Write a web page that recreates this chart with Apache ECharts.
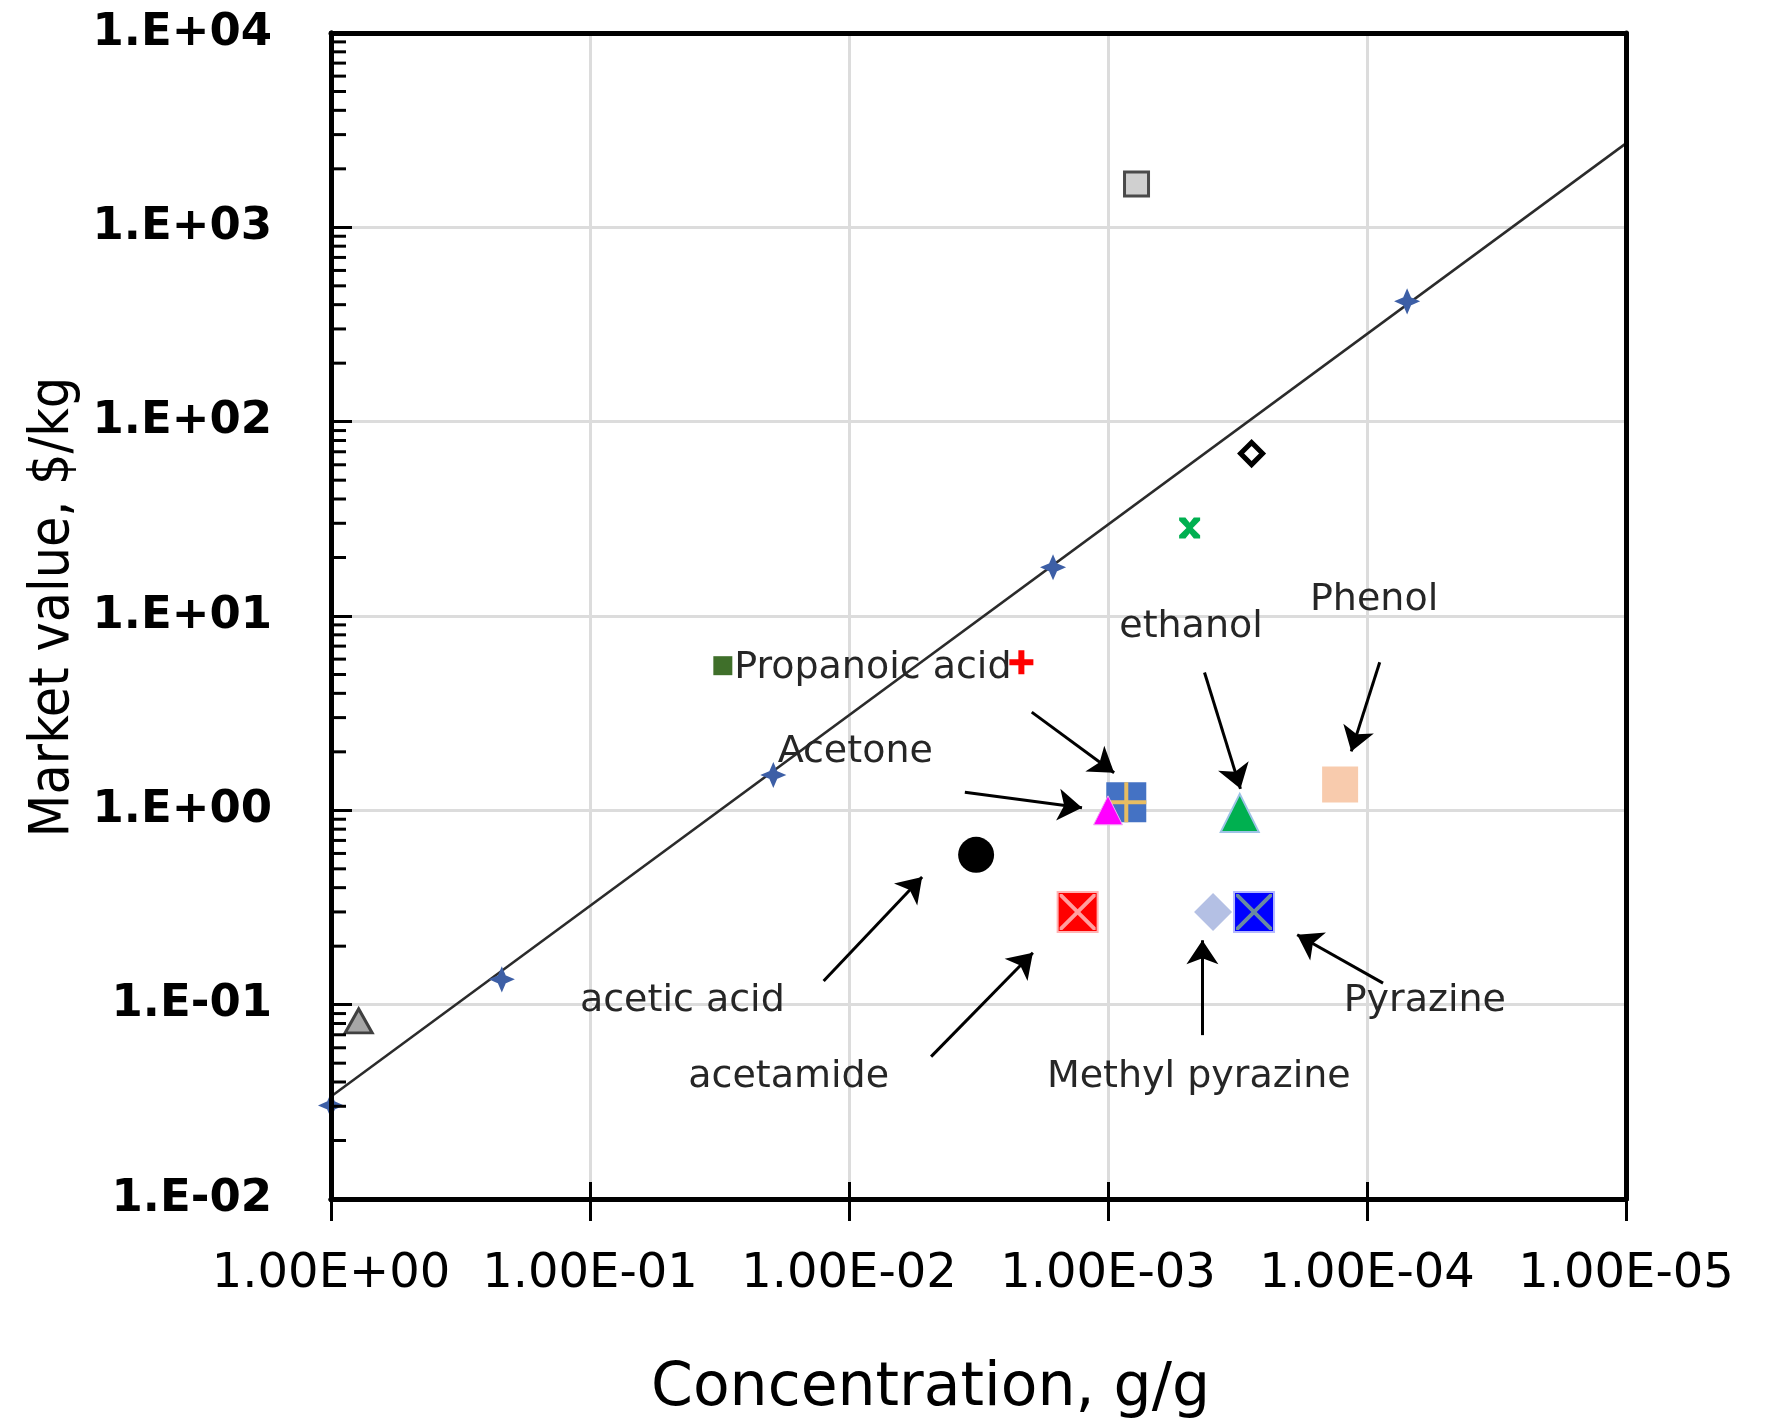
<!DOCTYPE html>
<html>
<head>
<meta charset="utf-8">
<title>Market value vs concentration</title>
<script src="https://cdn.jsdelivr.net/npm/echarts@6/dist/echarts.min.js"></script>
<style>
html, body { margin: 0; padding: 0; background: #fff; }
#main { width: 1768px; height: 1421px; }
</style>
</head>
<body>
<div id="main"></div>
<script>
// ---- data (concentration g/g, market value $/kg) ----
var trendX = [1, 0.219, 0.0196, 0.00163, 0.00007];
var trendY = [0.0303, 0.135, 1.52, 17.8, 416];
// power-law fit, drawn between the axis ends
var fitX = [1, 0.00001];
var fitY = [0.0337, 2704];

// unlabeled products
var otherX = [0.000776, 0.000279, 0.000484, 0.00216, 0.0307, 0.782];
var otherY = [1670, 68.5, 28.4, 5.78, 5.55, 0.0826];

// labeled compounds
var compoundNames = ['Acetone', 'Propanoic acid', 'ethanol', 'Phenol',
  'acetic acid', 'acetamide', 'Methyl pyrazine', 'Pyrazine'];
var compoundX = [0.00100, 0.00085, 0.00031, 0.000127, 0.00323, 0.00131, 0.000393, 0.000273];
var compoundY = [1.0, 1.1, 0.97, 1.36, 0.59, 0.30, 0.30, 0.30];

// annotation text anchors and arrows (data space)
var labelX = [0.00946, 0.00809, 0.000478, 0.0000939, 0.0440, 0.0171, 0.000446, 0.0000598];
var labelY = [2.0, 5.41, 8.75, 12.06, 0.104, 0.0425, 0.0425, 0.104];
var arrowFromX = [0.00357, 0.00197, 0.000424, 0.0000893, 0.01253, 0.00482, 0.000432, 0.0000867];
var arrowFromY = [1.24, 3.2, 5.12, 5.78, 0.1324, 0.054, 0.0697, 0.129];
var arrowToX = [0.00126, 0.000947, 0.000308, 0.000115, 0.00522, 0.00195, 0.000432, 0.000186];
var arrowToY = [1.03, 1.56, 1.29, 2.01, 0.454, 0.185, 0.2144, 0.229];

var yMinorSteps = [2, 3, 4, 5, 6, 7, 8, 9];
var yDecades = [0.01, 0.1, 1, 10, 100, 1000];

// ---- symbols ----
var PLUS_THIN = 'path://M9,0H11V9H20V11H11V20H9V11H0V9H9Z';
var PLUS_BOLD = 'path://M7.5,0H12.5V7.5H20V12.5H12.5V20H7.5V12.5H0V7.5H7.5Z';
var X_THIN = 'path://M0,0H1.5L10,8.5L18.5,0H20V1.5L11.5,10L20,18.5V20H18.5L10,11.5L1.5,20H0V18.5L8.5,10L0,1.5Z';
var X_BOLD = 'path://M0,0H6L10,5L14,0H20V3L13,10L20,17V20H14L10,15L6,20H0V17L7,10L0,3Z';
var STAR4 = 'path://M10,0L13,7L20,10L13,13L10,20L7,13L0,10L7,7Z';

var otherMarks = [
  [{ symbol: 'rect', size: 24, color: '#d0d0d0', border: '#4a4a4a', bw: 3 }],
  [{ symbol: 'diamond', size: 22, color: '#ffffff', border: '#000000', bw: 5 }],
  [{ symbol: X_BOLD, size: 21, color: '#00b050' }],
  [{ symbol: PLUS_BOLD, size: 24, color: '#ff0000' }],
  [{ symbol: 'rect', size: 19, color: '#3f6f2a' }],
  [{ symbol: 'triangle', size: [27, 24], color: '#a6a6a6', border: '#404040', bw: 3 }]
];
var compoundMarks = [
  [{ symbol: 'triangle', size: 29, color: '#ff00ff', border: '#f0b0f0', bw: 1, z: 7 }],
  [{ symbol: 'rect', size: 40, color: '#4472c4' }, { symbol: PLUS_THIN, size: 40, color: '#e8bd62' }],
  [{ symbol: 'triangle', size: 38, color: '#00b050', border: '#9dc3e6', bw: 2 }],
  [{ symbol: 'rect', size: 36, color: '#f8cbad' }],
  [{ symbol: 'circle', size: 36, color: '#000000' }],
  [{ symbol: 'rect', size: 40, color: '#ff0000', border: '#ffb4b4', bw: 2 }, { symbol: X_THIN, size: 36, color: '#ff9f9f' }],
  [{ symbol: 'diamond', size: 38, color: '#b4c0e4' }],
  [{ symbol: 'rect', size: 40, color: '#0000ff', border: '#b4b8ff', bw: 2 }, { symbol: X_THIN, size: 36, color: '#6a8aa0' }]
];

function expLabel(v, mant) {
  var e = Math.round(Math.log(v) / Math.LN10);
  var a = Math.abs(e);
  return mant + 'E' + (e < 0 ? '-' : '+') + (a < 10 ? '0' + a : a);
}

var series = [];

series.push({
  type: 'line',
  data: fitX.map(function (x, i) { return [x, fitY[i]]; }),
  symbol: 'none',
  lineStyle: { color: '#2b2b2b', width: 2.5 },
  silent: true,
  z: 2
});

series.push({
  type: 'scatter',
  data: trendX.map(function (x, i) { return [x, trendY[i]]; }),
  symbol: STAR4,
  symbolSize: 21,
  itemStyle: { color: '#3d5fa6', opacity: 1, borderColor: '#3d5fa6', borderWidth: 2 },
  z: 3
});

function pushMarks(xs, ys, marks) {
  xs.forEach(function (x, i) {
    marks[i].forEach(function (m, k) {
      series.push({
        type: 'scatter',
        data: [[x, ys[i]]],
        symbol: m.symbol,
        symbolSize: m.size,
        itemStyle: {
          color: m.color,
          opacity: 1,
          borderColor: m.border || m.color,
          borderWidth: m.bw || 0
        },
        z: (m.z || 4) + k
      });
    });
  });
}
pushMarks(otherX, otherY, otherMarks);
pushMarks(compoundX, compoundY, compoundMarks);

// minor ticks of the log value axis
var yMinor = [];
yDecades.forEach(function (d) {
  yMinorSteps.forEach(function (s) { yMinor.push([1, d * s]); });
});
series.push({
  type: 'custom',
  data: yMinor,
  silent: true,
  clip: false,
  z: 10,
  renderItem: function (params, api) {
    var p = api.coord([api.value(0), api.value(1)]);
    return {
      type: 'line',
      shape: { x1: p[0], y1: p[1], x2: p[0] + 15, y2: p[1] },
      style: { stroke: '#000', lineWidth: 3 }
    };
  }
});

// annotation labels and arrows
series.push({
  type: 'scatter',
  data: compoundNames.map(function (n, i) { return { name: n, value: [labelX[i], labelY[i]] }; }),
  symbolSize: 0,
  silent: true,
  z: 8,
  itemStyle: { opacity: 1 },
  label: {
    show: true,
    position: 'inside',
    formatter: '{b}',
    color: '#262626',
    fontFamily: 'DejaVu Sans',
    fontSize: 38
  },
  markLine: {
    silent: true,
    symbol: ['none', 'arrow'],
    symbolSize: 24,
    label: { show: false },
    lineStyle: { color: '#000', width: 3, type: 'solid', opacity: 1 },
    data: arrowFromX.map(function (x, i) {
      return [{ coord: [x, arrowFromY[i]] }, { coord: [arrowToX[i], arrowToY[i]] }];
    })
  }
});

function borderAxis(pos) {
  return {
    type: 'log', logBase: 10, position: pos, z: 6,
    min: pos === 'top' ? 0.00001 : 0.01, max: pos === 'top' ? 1 : 10000,
    axisLine: { show: true, onZero: false, lineStyle: { color: '#000', width: 5 } },
    axisTick: { show: false }, axisLabel: { show: false }, splitLine: { show: false }
  };
}

var option = {
  animation: false,
  backgroundColor: '#fff',
  grid: {
    left: 331, right: 142, top: 33, bottom: 222,
    show: false, containLabel: false, outerBoundsMode: 'none'
  },
  xAxis: [
    {
      type: 'log', logBase: 10, min: 0.00001, max: 1, inverse: true,
      position: 'bottom',
      name: 'Concentration, g/g',
      nameLocation: 'middle',
      nameGap: 160,
      nameTextStyle: { fontFamily: 'DejaVu Sans', fontSize: 60, color: '#000', padding: [0, 96, 0, 0] },
      axisLine: { lineStyle: { color: '#000', width: 5 } },
      axisTick: { inside: false, length: 22, lineStyle: { color: '#000', width: 3 } },
      axisLabel: {
        margin: 52, color: '#000', fontFamily: 'DejaVu Sans', fontSize: 48,
        formatter: function (v) { return expLabel(v, '1.00'); }
      },
      splitLine: { show: true, lineStyle: { color: '#dcdcdc', width: 3 } }
    },
    {
      type: 'log', logBase: 10, min: 0.00001, max: 1, inverse: true,
      position: 'bottom', offset: 0, z: 6,
      axisLine: { show: true, lineStyle: { color: '#000', width: 5 } },
      axisTick: { inside: true, length: 17, lineStyle: { color: '#000', width: 3 } },
      axisLabel: { show: false },
      splitLine: { show: false }
    },
    borderAxis('top')
  ],
  yAxis: [
    {
      type: 'log', logBase: 10, min: 0.01, max: 10000,
      position: 'left',
      name: 'Market value, $/kg',
      nameLocation: 'middle',
      nameRotate: 90,
      nameGap: 236,
      nameTextStyle: { fontFamily: 'DejaVu Sans Condensed', fontSize: 55, color: '#000', padding: [0, 0, 0, 18] },
      axisLine: { lineStyle: { color: '#000', width: 5 } },
      axisTick: { inside: true, length: 21, lineStyle: { color: '#000', width: 3 } },
      axisLabel: {
        margin: 59, color: '#000', fontFamily: 'DejaVu Sans', fontWeight: 'bold', fontSize: 45,
        formatter: function (v) { return expLabel(v, '1.'); }
      },
      splitLine: { show: true, lineStyle: { color: '#dcdcdc', width: 3 } }
    },
    borderAxis('right'),
    {
      type: 'log', logBase: 10, min: 0.01, max: 10000, position: 'left', z: 6,
      axisLine: { show: true, onZero: false, lineStyle: { color: '#000', width: 5 } },
      axisTick: { show: false }, axisLabel: { show: false }, splitLine: { show: false }
    }
  ],
  series: series
};

var chart = echarts.init(document.getElementById('main'));
chart.setOption(option);
</script>
</body>
</html>
